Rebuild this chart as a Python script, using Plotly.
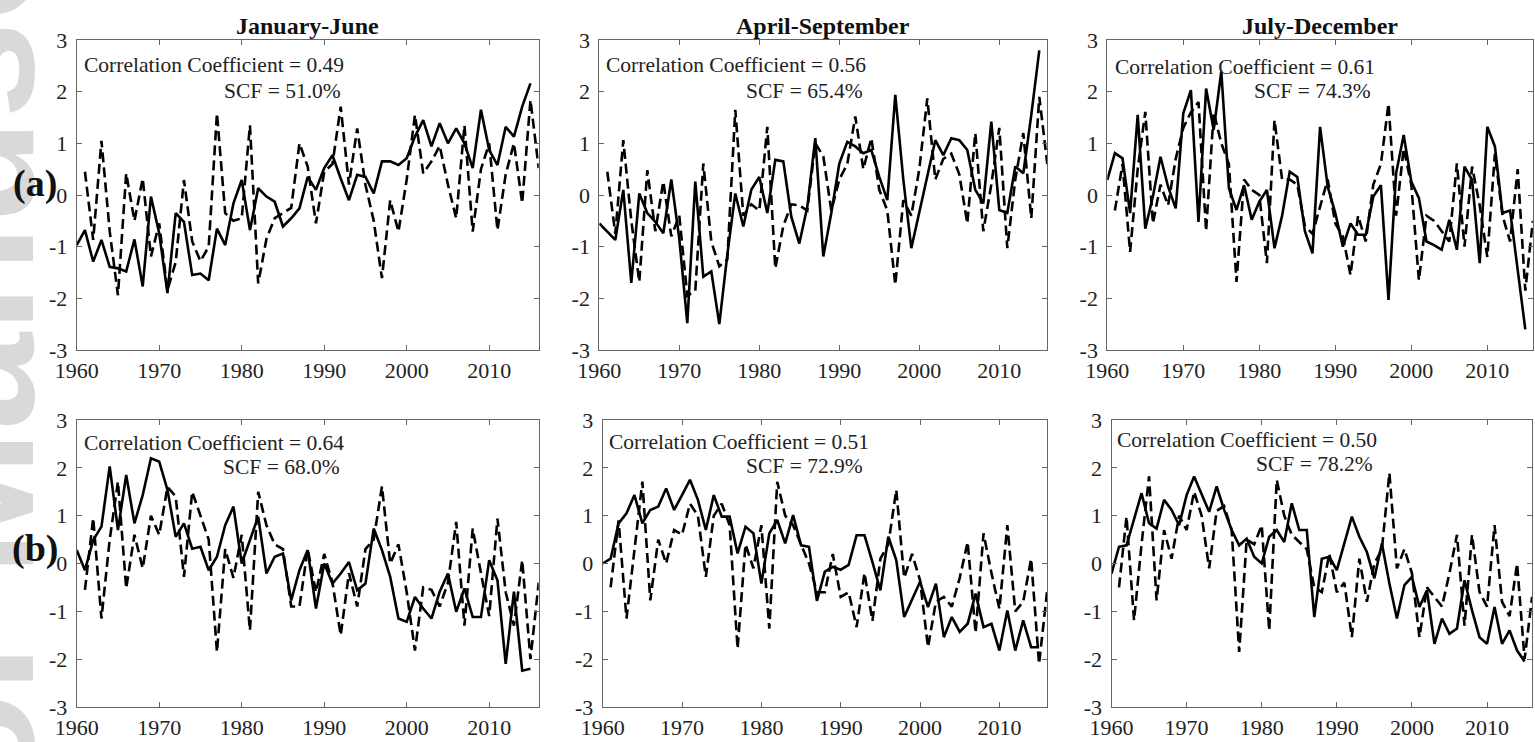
import plotly.graph_objects as go

# ---------------- data ----------------
years_solid = list(range(1960, 2016))
years_dash = list(range(1961, 2017))

panel_titles = ["January-June", "April-September", "July-December"]
row_labels = ["(a)", "(b)"]
corr_values = ["0.49", "0.56", "0.61", "0.64", "0.51", "0.50"]
scf_values = ["51.0%", "65.4%", "74.3%", "68.0%", "72.9%", "78.2%"]

x_tick_vals = [1960, 1970, 1980, 1990, 2000, 2010]
x_tick_text = ["1960", "1970", "1980", "1990", "2000", "2010"]
y_tick_vals = [-3, -2, -1, 0, 1, 2, 3]
y_tick_text = ["-3", "-2", "-1", "0", "1", "2", "3"]

a1_solid = [-0.97, -0.68, -1.29, -0.87, -1.39, -1.42, -1.48, -0.86, -1.77, -0.03,
            -0.74, -1.90, -0.35, -0.52, -1.55, -1.52, -1.65, -0.65, -0.97, -0.16,
            0.29, -0.68, 0.13, -0.03, -0.13, -0.61, -0.45, -0.26, 0.35, 0.10,
            0.52, 0.77, 0.32, -0.10, 0.39, 0.35, 0.03, 0.65, 0.65, 0.58,
            0.71, 1.13, 1.45, 0.94, 1.39, 1.00, 1.29, 1.00, 0.52, 1.65,
            0.87, 0.58, 1.32, 1.13, 1.71, 2.16]
a1_dash = [0.45, -0.87, 1.05, -0.70, -1.94, 0.42, -0.50, 0.32, -1.19, -0.55,
           -1.84, -1.30, 0.29, -0.90, -1.28, -1.00, 1.58, -0.35, -0.50, -0.45,
           1.35, -1.71, -0.85, -0.45, -0.35, -0.25, 1.00, 0.55, -0.55, 0.45,
           0.60, 1.71, 0.20, 1.29, 0.20, -0.50, -1.61, -0.10, -0.71, 0.30,
           1.55, 0.42, 0.65, 0.95, 0.20, -0.45, 1.35, -0.71, 0.50, 1.00,
           -0.68, 0.40, 1.00, -0.16, 1.84, 0.52]

a2_solid = [-0.55, -0.71, -0.87, 0.10, -1.70, 0.03, -0.35, -0.52, -0.74, 0.30,
            -0.85, -2.48, 0.26, -1.58, -1.48, -2.50, -1.16, 0.03, -0.61, 0.10,
            0.35, -0.35, 0.68, 0.65, -0.42, -0.94, -0.23, 1.10, -1.19, -0.35,
            0.61, 1.03, 0.94, 0.81, 0.87, 0.35, -0.10, 1.94, 0.30, -1.03,
            -0.35, 0.35, 1.06, 0.77, 1.10, 1.06, 0.87, 0.10, -0.16, 1.42,
            -0.29, -0.35, 0.55, 0.42, 1.55, 2.80]
a2_dash = [0.45, -0.75, 1.06, -0.50, -1.68, 0.48, -0.70, 0.26, -0.80, -0.40,
           -1.95, -1.85, 0.61, -0.90, -1.38, -1.25, 1.65, -0.40, -0.18, -0.30,
           1.32, -1.42, -0.60, -0.18, -0.20, -0.30, 1.00, 0.75, -0.30, 0.30,
           0.60, 1.52, 0.50, 1.10, 0.10, -0.30, -1.74, -0.10, -0.40, 0.50,
           1.87, 0.30, 0.70, 0.80, 0.40, -0.55, 1.20, -0.70, 0.20, 1.30,
           -1.03, 0.30, 1.20, -0.45, 1.90, 0.60]

a3_solid = [0.29, 0.81, 0.71, -0.35, 1.55, -0.65, -0.03, 0.74, 0.16, -0.26,
            1.58, 2.03, -0.52, 2.06, 1.26, 2.39, 0.13, -0.29, 0.19, -0.48,
            -0.13, 0.10, -1.03, -0.40, 0.45, 0.35, -0.70, -1.13, 1.32, 0.16,
            -0.35, -1.00, -0.55, -0.77, -0.77, -0.03, 0.19, -2.03, 0.42, 1.16,
            0.26, -0.06, -0.90, -0.97, -1.06, -0.48, -1.06, 0.55, 0.29, -1.32,
            1.32, 0.94, -0.35, -0.30, -1.45, -2.60]
a3_dash = [-0.30, 0.60, -1.10, 0.50, 1.61, -0.55, 0.20, -0.20, 0.70, 1.30,
           1.60, 1.80, -0.70, 1.60, 1.00, 0.60, -1.68, 0.30, 0.10, 0.00,
           -1.32, 1.45, 0.30, 0.30, 0.20, -0.60, -0.75, -0.20, 0.30, -0.55,
           -0.80, -1.55, -0.40, -0.90, 0.20, 0.60, 1.77, -0.40, 0.90, 0.20,
           -1.65, -0.40, -0.50, -0.70, -0.90, 0.61, -1.00, 0.55, -0.20, -1.20,
           0.80, -0.40, -0.90, 0.50, -1.85, -0.50]

b1_solid = [0.28, -0.14, 0.49, 0.77, 2.03, 0.70, 1.85, 0.84, 1.43, 2.20,
            2.13, 1.54, 0.56, 0.84, 0.31, 0.35, -0.14, 0.14, 0.80, 1.19,
            0.00, 0.49, 0.98, -0.21, 0.14, 0.21, -0.77, -0.14, 0.28, -0.94,
            0.00, -0.42, -0.21, 0.03, -0.56, -0.42, 0.73, 0.28, -0.28, -1.15,
            -1.22, -0.70, -0.94, -1.15, -0.59, -0.21, -1.01, -0.52, -1.12, -1.12,
            0.07, -0.35, -2.10, -0.59, -2.24, -2.20]
b1_dash = [-0.55, 0.95, -1.15, 0.50, 1.71, -0.52, 0.60, -0.10, 1.00, 0.60,
           1.60, 1.40, -0.28, 1.50, 1.00, 0.50, -1.85, 0.30, -0.30, 0.60,
           -1.40, 1.50, 0.80, 0.40, 0.30, -0.90, -0.90, 0.30, -0.60, 0.20,
           -0.40, -1.50, -0.20, -0.90, 0.30, 0.50, 1.61, 0.00, 0.40, -0.60,
           -1.82, -0.50, -0.55, -0.90, -0.40, 0.87, -1.30, 0.73, -0.20, -1.10,
           0.94, -0.60, -1.30, 0.07, -2.00, -0.40]

b2_solid = [0.00, 0.10, 0.84, 1.05, 1.43, 0.84, 1.12, 1.19, 1.57, 1.12,
            1.43, 1.75, 1.33, 0.70, 1.43, 0.98, 0.98, 0.21, 0.77, 0.63,
            -0.42, 0.63, 0.91, 0.42, 1.01, 0.38, 0.35, -0.78, -0.17, -0.07,
            -0.13, -0.03, 0.59, 0.59, 0.03, -0.56, 0.56, 0.07, -1.12, -0.75,
            -0.38, -0.91, -0.42, -1.54, -1.12, -1.43, -1.26, -0.63, -1.33, -1.26,
            -1.82, -0.98, -1.82, -1.19, -1.75, -1.75]
b2_dash = [-0.50, 0.90, -1.15, 0.30, 1.71, -0.77, 0.50, 0.00, 0.70, 0.60,
           1.25, 1.00, -0.28, 1.00, 1.25, 0.80, -1.78, 0.40, -0.10, 0.80,
           -1.36, 1.71, 1.00, 0.80, 0.40, 0.00, -0.60, -0.60, 0.20, -0.70,
           -0.60, -1.33, -0.20, -1.20, 0.10, 0.40, 1.54, -0.30, 0.20, -0.35,
           -1.75, -0.80, -0.70, -0.90, -0.30, 0.45, -1.45, 0.63, -0.20, -0.95,
           0.80, -1.00, -0.80, 0.10, -2.10, -0.60]

b3_solid = [-0.21, 0.35, 0.38, 0.91, 1.47, 0.84, 0.73, 1.33, 1.12, 0.80,
            1.43, 1.82, 1.43, 1.08, 1.61, 1.12, 0.70, 0.38, 0.52, 0.14,
            0.00, 0.56, 0.70, 0.45, 1.26, 0.70, 0.70, -1.12, 0.10, 0.14,
            -0.14, 0.42, 0.98, 0.56, 0.24, -0.31, 0.42, -0.42, -1.15, -0.45,
            -0.28, -0.91, -0.56, -1.68, -1.15, -1.47, -1.36, -0.35, -0.98, -1.54,
            -1.68, -0.91, -1.68, -1.40, -1.82, -2.05]
b3_dash = [-0.50, 0.98, -1.19, 0.40, 1.82, -0.77, 0.70, 0.10, 1.00, 0.70,
           1.50, 1.00, -0.10, 1.10, 1.20, 0.70, -1.85, 0.50, 0.40, 0.80,
           -1.40, 1.75, 1.00, 0.60, 0.45, 0.30, -0.50, -0.60, 0.20, -0.60,
           -0.40, -1.54, 0.10, -0.80, 0.00, 0.30, 1.89, -0.10, 0.30, -0.20,
           -1.54, -0.50, -0.70, -0.90, -0.20, 0.60, -1.30, 0.60, -0.60, -0.90,
           0.80, -0.80, -1.10, 0.00, -2.00, -0.70]

solid_series = [a1_solid, a2_solid, a3_solid, b1_solid, b2_solid, b3_solid]
dash_series = [a1_dash, a2_dash, a3_dash, b1_dash, b2_dash, b3_dash]

# ---------------- layout constants (pixels) ----------------
W, H = 1535, 742
SERIF = "Liberation Serif, Times New Roman, serif"
TEXT_SIZE = 21.5
TICK_SIZE = 22
panels_px = [
    (76.7, 538.7, 40, 350),
    (599.3, 1047.3, 40, 350),
    (1107.3, 1532.9, 40, 350),
    (76.7, 538.7, 420, 707),
    (602.7, 1047.0, 420, 707),
    (1111.5, 1532.1, 420, 707),
]
# (left x of line 1, y of line 1, right x of line 2, y of line 2)
text_px = [
    (81.7, 65, 343, 91),
    (604, 65.5, 865, 90.5),
    (1112.7, 66.5, 1372.7, 90.5),
    (81.7, 442.5, 341.7, 466.5),
    (607.3, 441.5, 865, 465.5),
    (1115, 440, 1375, 464.5),
]


def px(xp):
    return xp / W


def py(yp):
    return 1 - yp / H


fig = go.Figure()
layout = dict(
    width=W, height=H,
    margin=dict(l=0, r=0, t=0, b=0, pad=0),
    paper_bgcolor="white", plot_bgcolor="white",
    showlegend=False,
    font=dict(family=SERIF, size=TEXT_SIZE, color="#222222"),
)

axis_color = "#666666"
annotations = []

# faint vertical watermark at the far left (drawn first, underneath the labels)
annotations.append(dict(
    xref="paper", yref="paper", x=px(-28), y=py(420),
    xanchor="center", yanchor="middle", showarrow=False, textangle=-90,
    text="<b>Author Manuscript</b>",
    font=dict(family="Liberation Sans, Arial, sans-serif", size=175, color="#d9d9d9"),
))

for i in range(6):
    n = i + 1
    xs = "" if n == 1 else str(n)
    x0, x1, y0, y1 = panels_px[i]
    fig.add_trace(go.Scatter(x=years_solid, y=solid_series[i], mode="lines",
                             line=dict(color="black", width=2.6),
                             xaxis="x" + xs, yaxis="y" + xs, hoverinfo="skip"))
    fig.add_trace(go.Scatter(x=years_dash, y=dash_series[i], mode="lines",
                             line=dict(color="black", width=2.6, dash="10px,5px"),
                             xaxis="x" + xs, yaxis="y" + xs, hoverinfo="skip"))
    layout["xaxis" + xs] = dict(
        domain=[px(x0), px(x1)], anchor="y" + xs, range=[1960, 2016],
        tickmode="array", tickvals=x_tick_vals, ticktext=x_tick_text,
        ticks="inside", ticklen=5, tickcolor=axis_color, mirror="ticks",
        showline=True, linecolor=axis_color, linewidth=1,
        showgrid=False, zeroline=False, ticklabelstandoff=1, automargin=False,
        tickfont=dict(family=SERIF, size=TICK_SIZE, color="#222222"),
    )
    layout["yaxis" + xs] = dict(
        domain=[py(y1), py(y0)], anchor="x" + xs, range=[-3, 3],
        tickmode="array", tickvals=y_tick_vals, ticktext=y_tick_text,
        ticks="inside", ticklen=5, tickcolor=axis_color, mirror="ticks",
        showline=True, linecolor=axis_color, linewidth=1,
        showgrid=False, zeroline=False, ticklabelstandoff=4, automargin=False,
        tickfont=dict(family=SERIF, size=TICK_SIZE, color="#222222"),
    )
    lx, ly, rx, ry = text_px[i]
    annotations.append(dict(
        xref="paper", yref="paper", x=px(lx), y=py(ly),
        xanchor="left", yanchor="middle", showarrow=False,
        text="Correlation Coefficient = " + corr_values[i],
        font=dict(family=SERIF, size=TEXT_SIZE, color="#222222"),
    ))
    annotations.append(dict(
        xref="paper", yref="paper", x=px(rx), y=py(ry),
        xanchor="right", yanchor="middle", showarrow=False,
        text="SCF = " + scf_values[i],
        font=dict(family=SERIF, size=TEXT_SIZE, color="#222222"),
    ))

for c in range(3):
    x0, x1, y0, y1 = panels_px[c]
    annotations.append(dict(
        xref="paper", yref="paper", x=px((x0 + x1) / 2), y=py(26),
        xanchor="center", yanchor="middle", showarrow=False,
        text="<b>" + panel_titles[c] + "</b>",
        font=dict(family=SERIF, size=24, color="#111111"),
    ))

for r, yc in enumerate([183, 548]):
    annotations.append(dict(
        xref="paper", yref="paper", x=px(35), y=py(yc),
        xanchor="center", yanchor="middle", showarrow=False,
        text="<b>" + row_labels[r] + "</b>",
        font=dict(family=SERIF, size=38, color="#111111"),
    ))

layout["annotations"] = annotations
fig.update_layout(**layout)
fig.write_html(
    "out.html",
    config={"displayModeBar": False},
    post_script="document.body.style.margin='0';document.body.style.overflow='hidden';",
)
